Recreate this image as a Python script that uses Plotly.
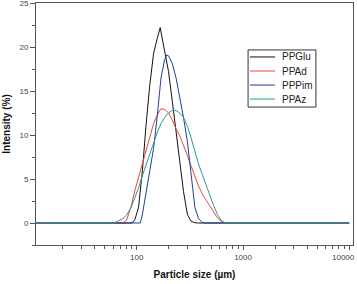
import math
import plotly.graph_objects as go

# Particle size grid (µm)
size_glu = [11, 88, 92, 96, 104, 113, 122, 132, 144, 149, 156, 166, 183, 199, 216, 234, 254, 275, 299, 324, 352, 381, 10000]
int_glu = [0, 0, 0.1, 0.4, 1.8, 6.0, 11.0, 15.5, 19.3, 20.2, 21.0, 22.2, 19.7, 17.2, 13.8, 10.6, 7.1, 3.6, 1.0, 0.2, 0.03, 0, 0]

size_ad = [11, 74, 80, 88, 96, 104, 113, 122, 132, 144, 156, 169, 183, 199, 216, 234, 254, 275, 299, 324, 352, 381, 414, 449, 487, 528, 573, 622, 675, 10000]
int_ad = [0, 0, 0.3, 1.8, 3.7, 5.2, 6.9, 8.5, 9.9, 11.3, 12.3, 13.0, 12.9, 12.5, 11.7, 10.7, 9.9, 8.9, 7.7, 6.5, 5.2, 4.2, 3.3, 2.6, 1.9, 1.2, 0.6, 0.2, 0, 0]

size_pim = [11, 104, 108, 113, 122, 132, 144, 156, 169, 183, 192, 199, 216, 234, 254, 275, 299, 324, 352, 381, 414, 449, 10000]
int_pim = [0, 0, 0, 1.0, 3.5, 5.8, 8.5, 12.2, 16.5, 18.6, 19.1, 19.0, 18.1, 16.5, 14.3, 12.0, 9.3, 5.4, 1.8, 0.5, 0.05, 0, 0]

size_az = [11, 60, 66, 74, 80, 88, 96, 104, 113, 122, 132, 144, 156, 169, 183, 199, 216, 234, 254, 275, 299, 324, 352, 381, 414, 449, 487, 528, 573, 622, 675, 10000]
int_az = [0, 0, 0.2, 0.5, 0.9, 1.7, 2.9, 4.0, 5.4, 6.6, 7.8, 9.1, 10.3, 11.3, 12.0, 12.5, 12.8, 12.8, 12.5, 12.0, 11.0, 9.7, 8.0, 6.7, 5.5, 4.3, 3.2, 2.0, 1.0, 0.3, 0, 0]

names = ["PPGlu", "PPAd", "PPPim", "PPAz"]
sizes = [size_glu, size_ad, size_pim, size_az]
values = [int_glu, int_ad, int_pim, int_az]
colors = ["#111111", "#e8473d", "#1f3f9a", "#2b9a8c"]

x_ticks = [100, 1000, 10000]
x_ticklabels = ["100", "1000", "10000"]

fig = go.Figure()
for name, xs, ys, col in zip(names, sizes, values, colors):
    fig.add_trace(go.Scatter(x=xs, y=ys, name=name, mode="lines",
                             line=dict(color=col, width=1), showlegend=False))

font = "Liberation Sans, Arial, sans-serif"

# Legend box drawn in paper coordinates (compact, like the original)
box_x0, box_x1, box_y0, box_y1 = 0.669, 0.883, 0.570, 0.806
line_x0, line_x1, text_x = 0.675, 0.754, 0.770
row_y = [0.777, 0.719, 0.661, 0.603]
shapes = [dict(type="rect", xref="paper", yref="paper", x0=box_x0, x1=box_x1, y0=box_y0, y1=box_y1,
               line=dict(color="#333333", width=1), fillcolor="white", layer="above")]
annotations = []
for name, col, yy in zip(names, colors, row_y):
    shapes.append(dict(type="line", xref="paper", yref="paper", x0=line_x0, x1=line_x1, y0=yy, y1=yy,
                       line=dict(color=col, width=1), layer="above"))
    annotations.append(dict(xref="paper", yref="paper", x=text_x, y=yy, text=name, showarrow=False,
                            xanchor="left", yanchor="middle",
                            font=dict(family=font, size=10, color="#222222")))

# The last x tick label sits at the right edge: draw it as an annotation nudged inwards
tick_text_shown = x_ticklabels[:-1] + [""]
annotations.append(dict(xref="x", yref="paper", x=math.log10(x_ticks[-1]), y=0, yshift=-6,
                        text=x_ticklabels[-1], showarrow=False, xanchor="right", yanchor="top",
                        xshift=8, font=dict(family=font, size=8, color="#444444")))

fig.update_layout(
    width=357, height=284,
    margin=dict(l=36, r=4, t=3, b=39),
    paper_bgcolor="white", plot_bgcolor="white",
    font=dict(family=font, size=8, color="#444444"),
    showlegend=False,
    shapes=shapes, annotations=annotations,
    xaxis=dict(type="log", range=[1.0513, 4.035], automargin=False,
               tickvals=x_ticks, ticktext=tick_text_shown, ticklabeloverflow="allow",
               ticks="outside", ticklen=4, tickcolor="#555555",
               showline=True, linecolor="#555555", linewidth=1, mirror=True,
               showgrid=False, zeroline=False,
               minor=dict(ticks="outside", ticklen=3, tickcolor="#555555", dtick="D1", showgrid=False),
               title=dict(text="<b>Particle size (µm)</b>", font=dict(family=font, size=10, color="#111111"), standoff=10)),
    yaxis=dict(range=[-2.5, 25], dtick=5, tick0=0, ticklabeloverflow="allow", automargin=False,
               ticks="outside", ticklen=5, tickcolor="#555555",
               showline=True, linecolor="#555555", linewidth=1, mirror=True,
               showgrid=False, zeroline=False,
               minor=dict(ticks="outside", ticklen=3, tickcolor="#555555", dtick=2.5, showgrid=False),
               title=dict(text="<b>Intensity (%)</b>", font=dict(family=font, size=10, color="#111111"), standoff=6)),
)

fig.write_html("out.html")
